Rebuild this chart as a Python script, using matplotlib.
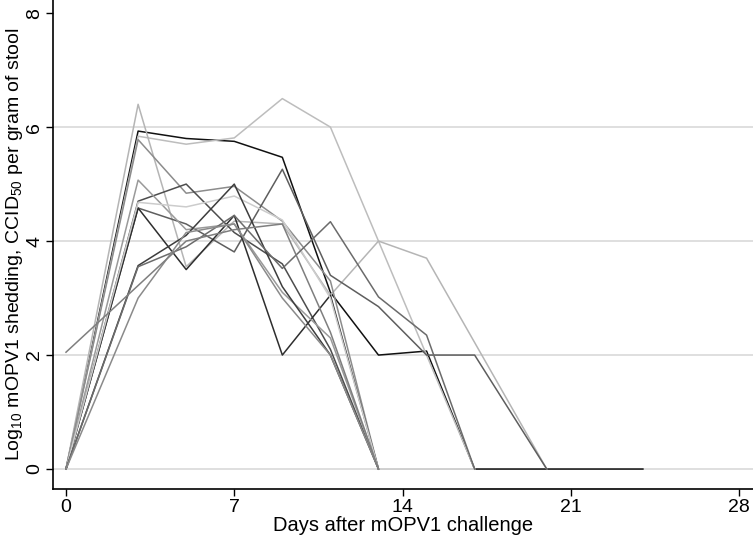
import matplotlib
matplotlib.use("Agg")
import matplotlib.pyplot as plt

plt.rcParams['font.family'] = ['Liberation Sans', 'DejaVu Sans']
plt.rcParams['mathtext.fontset'] = 'custom'
plt.rcParams['mathtext.rm'] = 'Liberation Sans'
plt.rcParams['mathtext.it'] = 'Liberation Sans'

# days after challenge and log10 shedding per child
days_1 = [0, 3, 5, 7, 9, 11, 13, 15, 17, 20, 24]
vals_1 = [0, 5.93, 5.8, 5.75, 5.47, 3.1, 2.0, 2.07, 0, 0, 0]
days_2 = [0, 3, 5, 7, 9, 11, 17]
vals_2 = [0, 5.84, 5.7, 5.81, 6.5, 6.0, 0]
days_3 = [0, 3, 5, 7, 9, 11, 13, 15, 20]
vals_3 = [0, 6.4, 3.55, 4.35, 4.3, 3.05, 4.0, 3.7, 0]
days_4 = [0, 3, 5, 7, 9, 11, 13]
vals_4 = [0, 5.78, 4.84, 4.96, 4.35, 3.3, 0]
days_5 = [0, 3, 5, 7, 9, 11, 13]
vals_5 = [0, 4.7, 5.0, 4.15, 3.6, 2.1, 0]
days_6 = [0, 3, 5, 7, 9, 11, 13, 15, 17, 20]
vals_6 = [0, 4.58, 4.3, 3.81, 5.26, 3.4, 2.85, 2.0, 2.0, 0]
days_7 = [0, 3, 5, 7, 9, 11, 13]
vals_7 = [0, 4.58, 3.5, 4.45, 2.0, 3.05, 0]
days_8 = [0, 3, 5, 7, 9, 11, 13]
vals_8 = [0, 5.07, 4.2, 4.3, 3.1, 2.3, 0]
days_9 = [0, 3, 5, 7, 9, 11, 13, 17]
vals_9 = [0, 4.68, 4.6, 4.79, 4.37, 3.0, 0, 0]
days_10 = [0, 3, 5, 7, 9, 11, 13]
vals_10 = [0, 3.57, 4.1, 5.0, 3.2, 2.0, 0]
days_11 = [0, 3, 5, 7, 9, 11, 13, 15, 17]
vals_11 = [0, 3.55, 3.9, 4.45, 3.52, 4.34, 3.02, 2.35, 0]
days_12 = [0, 3, 5, 7, 9, 11, 13]
vals_12 = [0, 3.0, 4.15, 4.3, 3.0, 2.0, 0]
days_13 = [0, 5, 7, 9, 11, 13]
vals_13 = [2.05, 4.0, 4.2, 4.3, 2.4, 0]

series = [
    (days_1, vals_1, '#111111'),
    (days_2, vals_2, '#bdbdbd'),
    (days_3, vals_3, '#b5b5b5'),
    (days_4, vals_4, '#8c8c8c'),
    (days_5, vals_5, '#4d4d4d'),
    (days_6, vals_6, '#5e5e5e'),
    (days_7, vals_7, '#2e2e2e'),
    (days_8, vals_8, '#9a9a9a'),
    (days_9, vals_9, '#cccccc'),
    (days_10, vals_10, '#3d3d3d'),
    (days_11, vals_11, '#6b6b6b'),
    (days_12, vals_12, '#8a8a8a'),
    (days_13, vals_13, '#7f7f7f'),
]

x_ticks = [0, 7, 14, 21, 28]
y_ticks = [0, 2, 4, 6, 8]
grid_levels = [0, 2, 4, 6]

fig = plt.figure(figsize=(7.53, 5.37), dpi=100)
ax = fig.add_axes([0.0704, 0.0894, 0.9296, 0.9106])

for g in grid_levels:
    ax.axhline(g, color='#dcdcdc', lw=1.3, zorder=0)

for d, v, c in series:
    ax.plot(d, v, color=c, lw=1.1, zorder=2)

ax.set_xlim(-0.54, 28.58)
ax.set_ylim(-0.35, 8.23)
ax.set_xticks(x_ticks)
ax.set_yticks(y_ticks)
ax.set_yticklabels([str(t) for t in y_ticks], rotation=90, va='center')
ax.tick_params(direction='out', length=5, width=1, labelsize=14, pad=2)

for s in ['top', 'right']:
    ax.spines[s].set_visible(False)
for s in ['left', 'bottom']:
    ax.spines[s].set_linewidth(1.2)

ax.set_xlabel('Days after mOPV1 challenge', fontsize=14.5, labelpad=0)
ax.set_ylabel(r'Log$_{10}$ mOPV1 shedding, CCID$_{50}$ per gram of stool', fontsize=14, labelpad=1)

fig.savefig('out.png', dpi=100)
